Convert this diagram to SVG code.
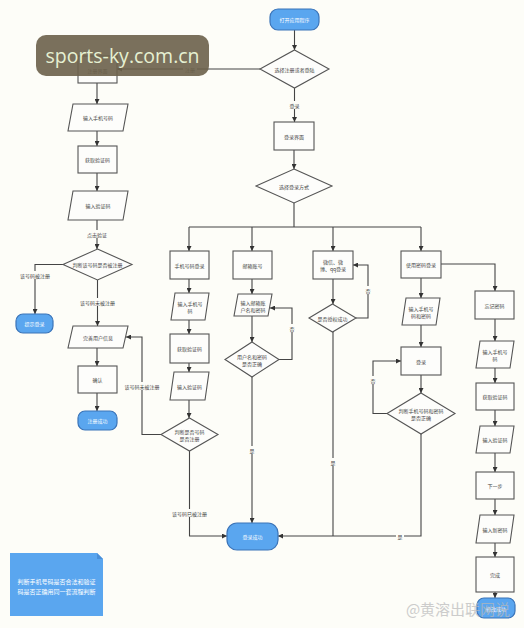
<svg xmlns="http://www.w3.org/2000/svg" width="524" height="628" viewBox="0 0 524 628">
<defs>
<marker id="ah" viewBox="0 0 6 6" refX="6" refY="3" markerWidth="5" markerHeight="5" orient="auto" markerUnits="userSpaceOnUse">
<path d="M0,0 L6,3 L0,6 z" fill="#333"/>
</marker>
<style>
.bx{fill:#fdfdfb;stroke:#555;stroke-width:1.1}
.tm{fill:#5aa6ef;stroke:#3b74b8;stroke-width:1.2}
.ln{fill:none;stroke:#444;stroke-width:1.1}
.ar{fill:none;stroke:#444;stroke-width:1.1;marker-end:url(#ah)}
text{font-family:"Noto Sans CJK SC","Noto Sans",sans-serif;font-size:5px;fill:#444;text-anchor:middle;dominant-baseline:central}
.w{fill:#fff}
.nt{fill:#fff;font-size:6px}
.bg{fill:#fdfdf8}
</style>
</defs>
<rect x="0" y="0" width="524" height="628" fill="#fdfdf8"/>

<g id="connectors">
<path class="ar" d="M294.5,30 V50"/>
<path class="ar" d="M294.5,88 V122"/>
<path class="ar" d="M294,150 V169"/>
<path class="ln" d="M294,203 V227 M189,227 H421"/>
<path class="ar" d="M189,227 V251"/>
<path class="ar" d="M252,227 V251"/>
<path class="ar" d="M333,227 V251"/>
<path class="ar" d="M421,227 V251"/>
<path class="ar" d="M260,69 H117"/>
<path class="ar" d="M97,83 V104"/>
<path class="ar" d="M97,131 V146"/>
<path class="ar" d="M97,173 V191"/>
<path class="ar" d="M97,220 V249"/>
<path class="ar" d="M63,264.5 H35 V314"/>
<path class="ar" d="M97.5,280 V326"/>
<path class="ar" d="M97,348 V366"/>
<path class="ar" d="M97,393 V411"/>
<path class="ar" d="M161,434.5 H142 V337 H126"/>
<path class="ar" d="M189,279 V293"/>
<path class="ar" d="M189,320 V334"/>
<path class="ar" d="M189,363 V372"/>
<path class="ar" d="M189,400 V418"/>
<path class="ar" d="M189.5,451 V536 H227"/>
<path class="ar" d="M252,279 V294"/>
<path class="ar" d="M252,316 V342"/>
<path class="ar" d="M279,359.5 H292 V308 H270"/>
<path class="ar" d="M252,377 V523"/>
<path class="ar" d="M333,279 V304"/>
<path class="ar" d="M356,318 H368 V265 H353"/>
<path class="ln" d="M333,332 V536"/>
<path class="ar" d="M421,278 V298"/>
<path class="ar" d="M421,325 V347"/>
<path class="ar" d="M421,375 V393"/>
<path class="ar" d="M387,413.5 H373 V361 H401"/>
<path class="ar" d="M421,434 V536 H278"/>
<path class="ar" d="M441,264 H495 V291"/>
<path class="ar" d="M495,319 V341"/>
<path class="ar" d="M495,368 V383"/>
<path class="ar" d="M495,410 V426"/>
<path class="ar" d="M495,453 V472"/>
<path class="ar" d="M495,499 V515"/>
<path class="ar" d="M495,543 V557"/>
<path class="ar" d="M495,592 V598"/>
<rect class="bg" x="183" y="65" width="14" height="8"/><text x="190" y="69.5">注册</text>
<rect class="bg" x="287" y="101" width="14" height="8"/><text x="294.5" y="105">登录</text>
<rect class="bg" x="86" y="230" width="22" height="8"/><text x="97" y="234">点击验证</text>
<rect class="bg" x="20" y="271" width="32" height="8"/><text x="35" y="275">该号码被注册</text>
<rect class="bg" x="79" y="298" width="37" height="8"/><text x="97.5" y="302">该号码未被注册</text>
<rect class="bg" x="124" y="382" width="37" height="8"/><text x="142" y="386">该号码未被注册</text>
<rect class="bg" x="171" y="509" width="37" height="8"/><text x="189.5" y="513">该号码已被注册</text>
<rect class="bg" x="248" y="446" width="8" height="8"/><text x="252" y="450">是</text>
<rect class="bg" x="288" y="324" width="8" height="8"/><text x="292" y="328">否</text>
<rect class="bg" x="329" y="458" width="8" height="8"/><text x="333" y="462">是</text>
<rect class="bg" x="364" y="286" width="8" height="8"/><text x="368" y="290">否</text>
<rect class="bg" x="369" y="376" width="8" height="8"/><text x="373" y="380">否</text>
<rect class="bg" x="396" y="532" width="8" height="8"/><text x="400" y="536">是</text>
</g>

<g id="start"><rect class="tm" x="270" y="9" width="49" height="21" rx="8"/><text class="w" x="294.5" y="19.5">打开应用程序</text></g>
<g id="d-choose"><polygon class="bx" points="294.5,50 329,69 294.5,88 260,69"/><text x="294.5" y="69">选择注册或者登陆</text></g>
<g id="login-ui"><rect class="bx" x="274" y="122" width="40" height="28"/><text x="294" y="136">登录界面</text></g>
<g id="d-mode"><polygon class="bx" points="294,169 332,186 294,203 256,186"/><text x="294" y="186">选择登录方式</text></g>

<g id="reg-ui"><rect class="bx" x="78" y="56" width="39" height="27"/><text x="97.5" y="70">注册界面</text></g>
<g id="reg-phone"><polygon class="bx" points="73,104 128,104 123,131 68,131"/><text x="98" y="117.5">输入手机号码</text></g>
<g id="reg-code"><rect class="bx" x="78" y="146" width="39" height="27"/><text x="97.5" y="159.5">获取验证码</text></g>
<g id="reg-input"><polygon class="bx" points="73,191 128,191 123,220 68,220"/><text x="98" y="205.5">输入验证码</text></g>
<g id="d-reg"><polygon class="bx" points="97.5,249 132,264.5 97.5,280 63,264.5"/><text x="97.5" y="264.5">判断该号码是否被注册</text></g>
<g id="tip-login"><rect class="tm" x="16" y="314" width="37" height="19" rx="7"/><text class="w" x="34.5" y="323.5">提示登录</text></g>
<g id="reg-info"><polygon class="bx" points="73,326 128,326 123,348 68,348"/><text x="98" y="337">完善用户信息</text></g>
<g id="reg-ok"><rect class="bx" x="78" y="366" width="39" height="27"/><text x="97.5" y="379.5">确认</text></g>
<g id="reg-done"><rect class="tm" x="78" y="411" width="39" height="19" rx="7"/><text class="w" x="97.5" y="420.5">注册成功</text></g>

<g id="m-phone"><rect class="bx" x="170" y="251" width="39" height="28"/><text x="189.5" y="265">手机号码登录</text></g>
<g id="m-phone-in"><polygon class="bx" points="175,293 209,293 205,320 171,320"/><text x="190" y="303">输入手机号</text><text x="190" y="310">码</text></g>
<g id="m-code"><rect class="bx" x="170" y="334" width="39" height="29"/><text x="189.5" y="348.5">获取验证码</text></g>
<g id="m-code-in"><polygon class="bx" points="174,372 209,372 205,400 170,400"/><text x="189.5" y="386">输入验证码</text></g>
<g id="d-m-reg"><polygon class="bx" points="189.5,418 218,434.5 189.5,451 161,434.5"/><text x="189.5" y="431">判断是否号码</text><text x="189.5" y="438">是否注册</text></g>

<g id="m-mail"><rect class="bx" x="233" y="251" width="39" height="28"/><text x="252.5" y="265">邮箱账号</text></g>
<g id="m-mail-in"><polygon class="bx" points="238,294 272,294 268,316 234,316"/><text x="253" y="302">输入邮箱账</text><text x="253" y="309">户名和密码</text></g>
<g id="d-mail"><polygon class="bx" points="252,342 279,359.5 252,377 225,359.5"/><text x="252" y="356">用户名和密码</text><text x="252" y="363">是否正确</text></g>

<g id="m-social"><rect class="bx" x="313" y="251" width="40" height="28"/><text x="333" y="261.5">微信、微</text><text x="333" y="268.5">博、qq登录</text></g>
<g id="d-social"><polygon class="bx" points="332.5,304 356,318 332.5,332 309,318"/><text x="332.5" y="318">是否授权成功</text></g>

<g id="m-pwd"><rect class="bx" x="401" y="251" width="40" height="27"/><text x="421" y="264.5">使用密码登录</text></g>
<g id="m-pwd-in"><polygon class="bx" points="406,298 440,298 436,325 402,325"/><text x="421" y="308">输入手机号</text><text x="421" y="315">码和密码</text></g>
<g id="m-login"><rect class="bx" x="401" y="347" width="40" height="28"/><text x="421" y="361">登录</text></g>
<g id="d-pwd"><polygon class="bx" points="421,393 455,413.5 421,434 387,413.5"/><text x="421" y="410">判断手机号码和密码</text><text x="421" y="417">是否正确</text></g>

<g id="login-done"><rect class="tm" x="227" y="523" width="51" height="27" rx="10"/><text class="w" x="252.5" y="536.5">登录成功</text></g>

<g id="f-forget"><rect class="bx" x="475" y="291" width="39" height="28"/><text x="494.5" y="305">忘记密码</text></g>
<g id="f-phone"><polygon class="bx" points="480,341 514,341 510,368 476,368"/><text x="495" y="351">输入手机号</text><text x="495" y="358">码</text></g>
<g id="f-code"><rect class="bx" x="476" y="383" width="38" height="27"/><text x="495" y="396.5">获取验证码</text></g>
<g id="f-code-in"><polygon class="bx" points="480,426 514,426 510,453 476,453"/><text x="495" y="439.5">输入验证码</text></g>
<g id="f-next"><rect class="bx" x="476" y="472" width="38" height="27"/><text x="495" y="485.5">下一步</text></g>
<g id="f-new"><polygon class="bx" points="480,515 514,515 510,543 476,543"/><text x="495" y="529">输入新密码</text></g>
<g id="f-done"><rect class="bx" x="476" y="557" width="38" height="35"/><text x="495" y="574.5">完成</text></g>
<g id="f-end"><rect class="tm" x="477" y="598" width="38" height="20" rx="7"/><text class="w" x="496" y="608">修改成功</text></g>

<g id="note"><path d="M10,553 H97 L103,559 V616 H10 Z" fill="#5aa6ef"/><path d="M97,553 V559 H103" fill="#4a8fd8"/><text class="nt" x="56.5" y="581">判断手机号码是否合法和验证</text><text class="nt" x="56.5" y="591">码是否正确用同一套流程判断</text></g>

<g id="watermark"><rect x="36" y="35" width="173" height="41" rx="10" fill="#6b604a" fill-opacity="0.9"/><text x="122.5" y="55" style="font-family:'Open Sans','Noto Sans',sans-serif;font-size:19.5px;fill:#e6f0d2">sports-ky.com.cn</text>
<text x="458" y="608" style="font-size:15px;fill:#b8b8b8;opacity:0.7">@黄溶出联网说</text></g>
</svg>
